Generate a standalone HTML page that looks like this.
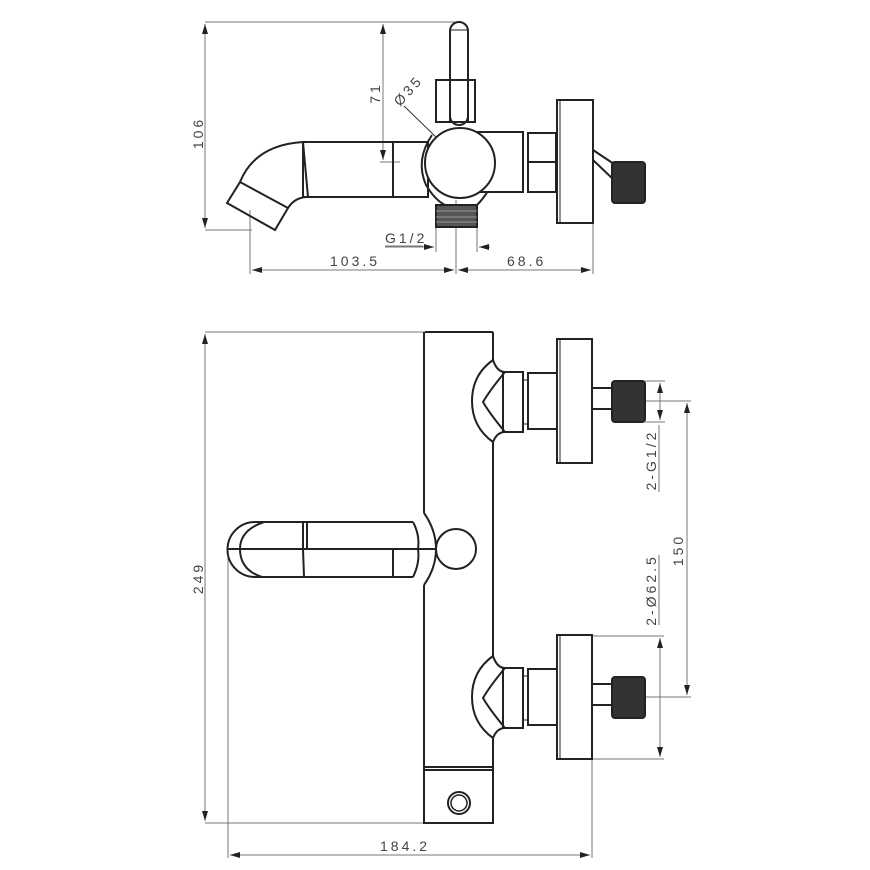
<!DOCTYPE html>
<html><head><meta charset="utf-8"><style>
html,body{margin:0;padding:0;background:#fff}
svg{display:block}
text{font-family:"Liberation Sans",sans-serif;font-size:14px;fill:#444;letter-spacing:3px}
</style></head><body>
<svg width="870" height="870" viewBox="0 0 870 870" xmlns="http://www.w3.org/2000/svg">
<defs>
<marker id="a" viewBox="0 0 10 6" refX="10" refY="3" markerWidth="10" markerHeight="6" orient="auto-start-reverse" markerUnits="userSpaceOnUse"><path d="M0,0 L10,3 L0,6 z" fill="#222"/></marker>
</defs>
<!-- dimension lines (thin gray) -->
<g stroke="#777" stroke-width="1" fill="none">
<!-- top view -->
<line x1="205" y1="22" x2="455" y2="22"/>
<line x1="205" y1="230" x2="252" y2="230"/>
<line x1="205" y1="24" x2="205" y2="228" marker-start="url(#a)" marker-end="url(#a)"/>
<line x1="383" y1="24" x2="383" y2="160" marker-start="url(#a)" marker-end="url(#a)"/>
<line x1="380" y1="162" x2="400" y2="162"/>
<line x1="250" y1="210" x2="250" y2="274"/>
<line x1="456" y1="200" x2="456" y2="274"/>
<line x1="593" y1="223" x2="593" y2="274"/>
<line x1="252" y1="270" x2="454" y2="270" marker-start="url(#a)" marker-end="url(#a)"/>
<line x1="458" y1="270" x2="591" y2="270" marker-start="url(#a)" marker-end="url(#a)"/>
<line x1="436" y1="222" x2="436" y2="252"/>
<line x1="477" y1="222" x2="477" y2="252"/>
<line x1="385" y1="247" x2="434" y2="247" marker-end="url(#a)"/>
<line x1="490" y1="247" x2="479" y2="247" marker-end="url(#a)"/>
<line x1="385" y1="246" x2="423" y2="246"/>
<line x1="404" y1="106" x2="438" y2="139" stroke="#333"/>
<line x1="438" y1="139" x2="483" y2="187" stroke="#333" marker-start="url(#a)" marker-end="url(#a)"/>
<!-- bottom view -->
<line x1="205" y1="332" x2="425" y2="332"/>
<line x1="205" y1="823" x2="425" y2="823"/>
<line x1="205" y1="334" x2="205" y2="821" marker-start="url(#a)" marker-end="url(#a)"/>
<line x1="228" y1="548" x2="228" y2="858"/>
<line x1="592" y1="760" x2="592" y2="858"/>
<line x1="230" y1="855" x2="590" y2="855" marker-start="url(#a)" marker-end="url(#a)"/>
<line x1="645" y1="381" x2="665" y2="381"/>
<line x1="645" y1="422" x2="665" y2="422"/>
<line x1="660" y1="383" x2="660" y2="420" marker-start="url(#a)" marker-end="url(#a)"/>
<line x1="645" y1="401" x2="691" y2="401"/>
<line x1="645" y1="697" x2="691" y2="697"/>
<line x1="687" y1="403" x2="687" y2="695" marker-start="url(#a)" marker-end="url(#a)"/>
<line x1="592" y1="636" x2="664" y2="636"/>
<line x1="592" y1="759" x2="664" y2="759"/>
<line x1="660" y1="638" x2="660" y2="757" marker-start="url(#a)" marker-end="url(#a)"/>
<line x1="659" y1="425" x2="659" y2="492"/>
<line x1="659" y1="555" x2="659" y2="625"/>
</g>
<!-- text -->
<text transform="translate(203,133) rotate(-90)" text-anchor="middle">106</text>
<text transform="translate(380,93) rotate(-90)" text-anchor="middle">71</text>
<text transform="translate(400,107) rotate(-48)">Ø35</text>
<text x="385" y="243">G1/2</text>
<text x="330" y="266">103.5</text>
<text x="507" y="266">68.6</text>
<text transform="translate(203,578) rotate(-90)" text-anchor="middle">249</text>
<text x="380" y="851">184.2</text>
<text transform="translate(656,460) rotate(-90)" text-anchor="middle">2-G1/2</text>
<text transform="translate(656,590) rotate(-90)" text-anchor="middle">2-Ø62.5</text>
<text transform="translate(683,550) rotate(-90)" text-anchor="middle">150</text>
<!-- top view object -->
<g stroke="#222" stroke-width="2" fill="none">
<rect x="450" y="22" width="18" height="103" rx="9" fill="#fff"/>
<line x1="450" y1="30" x2="468" y2="30" stroke-width="1"/>
<rect x="436" y="80" width="39" height="42"/>
<line x1="450" y1="80" x2="450" y2="122"/>
<line x1="468" y1="80" x2="468" y2="122"/>
<path d="M303,142 Q255,145 240,182 L227,203 L275,230 L288,208 Q295,197 308,197"/>
<line x1="240" y1="182" x2="288" y2="208"/>
<rect x="303" y="142" width="90" height="55"/>
<line x1="303" y1="142" x2="308" y2="197"/>
<rect x="393" y="142" width="35" height="55"/>
<path d="M432,135 Q415,160 426,185 Q435,200 445,205 L477,205 Q490,192 498,170 Q500,145 490,132"/>
<rect x="460" y="132" width="63" height="60" fill="#fff"/>
<rect x="528" y="133" width="28" height="59"/>
<line x1="528" y1="162" x2="556" y2="162"/>
<rect x="557" y="100" width="36" height="123" fill="#fff"/>
<line x1="560" y1="100" x2="560" y2="223" stroke-width="1"/>
<line x1="593" y1="150" x2="614" y2="164"/>
<line x1="593" y1="160" x2="614" y2="180"/>
<circle cx="460" cy="163" r="35" fill="#fff"/>
<rect x="436" y="205" width="41" height="22" fill="#555"/>
<line x1="436" y1="211" x2="477" y2="211" stroke="#999" stroke-width="1"/>
<line x1="436" y1="217" x2="477" y2="217" stroke="#999" stroke-width="1"/>
<line x1="436" y1="222" x2="477" y2="222" stroke="#999" stroke-width="1"/>
<rect x="612" y="162" width="33" height="41" rx="3" fill="#333"/>
</g>
<!-- bottom view object -->
<g stroke="#222" stroke-width="2" fill="none">
<line x1="425" y1="332" x2="493" y2="332"/>
<line x1="424" y1="332" x2="424" y2="513"/>
<line x1="424" y1="585" x2="424" y2="769"/>
<line x1="493" y1="332" x2="493" y2="360"/>
<line x1="493" y1="442" x2="493" y2="656"/>
<line x1="493" y1="738" x2="493" y2="769"/>
<line x1="424" y1="767" x2="493" y2="767"/>
<rect x="424" y="770" width="69" height="53"/>
<circle cx="459" cy="803" r="11"/>
<circle cx="459" cy="803" r="8" stroke-width="1.5"/>
<!-- handle -->
<path d="M424,513 Q436,530 436,549 Q436,568 424,585"/>
<path d="M413,522 Q420,535 418,549 Q420,563 413,577"/>
<line x1="418" y1="549" x2="436" y2="549"/>
<path d="M413,522 L255,522 A27,27 0 0 0 255,577 L413,577"/>
<path d="M264,522 Q240,530 240,549 Q240,570 262,577"/>
<line x1="227" y1="549" x2="418" y2="549"/>
<line x1="303" y1="522" x2="303" y2="549"/>
<line x1="307" y1="522" x2="307" y2="549"/>
<line x1="303" y1="549" x2="304" y2="577"/>
<line x1="393" y1="549" x2="393" y2="577"/>
<circle cx="456" cy="549" r="20" fill="#fff"/>
</g>
<g id="inlet" stroke="#222" stroke-width="2" fill="none">
<path d="M493,360 Q472,375 472,401 Q472,427 493,442"/>
<path d="M493,360 Q497,372 505,372 M493,442 Q497,432 505,432"/>
<path d="M505,372 Q490,390 483,402 Q490,414 505,432"/>
<rect x="503" y="372" width="20" height="60"/>
<line x1="523" y1="380" x2="528" y2="380" stroke-width="1"/>
<line x1="523" y1="424" x2="528" y2="424" stroke-width="1"/>
<rect x="528" y="373" width="29" height="56"/>
<rect x="557" y="339" width="35" height="124"/>
<line x1="560" y1="339" x2="560" y2="463" stroke-width="1"/>
<line x1="592" y1="388" x2="612" y2="388"/>
<line x1="592" y1="409" x2="612" y2="409"/>
<rect x="612" y="381" width="33" height="41" rx="3" fill="#333"/>
</g>
<use href="#inlet" transform="translate(0,296)"/>
</svg>
</body></html>
